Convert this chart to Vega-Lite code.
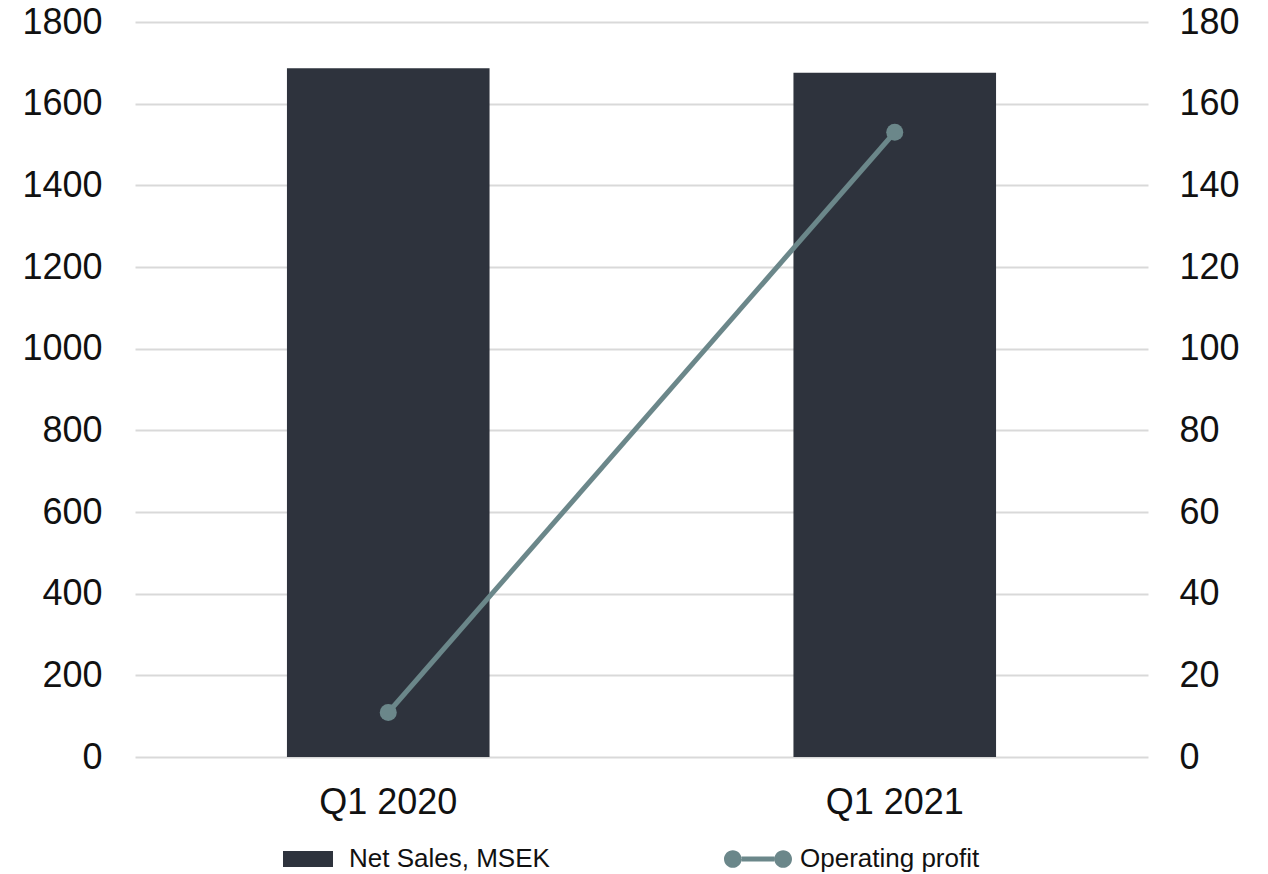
{
  "$schema": "https://vega.github.io/schema/vega-lite/v6.json",
  "width": 1013,
  "height": 735,
  "autosize": {"type": "none"},
  "padding": {"left": 135, "top": 22, "right": 120, "bottom": 117},
  "background": "white",
  "config": {
    "view": {"stroke": null},
    "font": "Liberation Sans",
    "axis": {"labelFont": "Liberation Sans", "labelFontSize": 36, "labelColor": "#111111", "domain": false, "ticks": false, "tickSize": 0, "title": null},
    "legend": {"labelFont": "Liberation Sans", "labelFontSize": 26, "labelColor": "#111111", "title": null, "padding": 0, "labelLimit": 0}
  },
  "data": {"values": [
    {"quarter": "Q1 2020", "sales": 1687, "profit": 10.9, "s": "Net Sales, MSEK", "p": "Operating profit"},
    {"quarter": "Q1 2021", "sales": 1676, "profit": 153, "s": "Net Sales, MSEK", "p": "Operating profit"}
  ]},
  "encoding": {
    "x": {"field": "quarter", "type": "nominal", "scale": {"paddingInner": 0.6, "paddingOuter": 0.3},
      "axis": {"labelAngle": 0, "labelPadding": 28, "grid": false}}
  },
  "layer": [
    {
      "mark": {"type": "bar", "color": "#2E333D"},
      "encoding": {
        "y": {"field": "sales", "type": "quantitative", "scale": {"domain": [0, 1800]},
          "axis": {"orient": "left", "format": "d", "values": [0,200,400,600,800,1000,1200,1400,1600,1800], "grid": true, "gridColor": "#D9D9D9", "gridWidth": 2, "labelPadding": 33}},
        "fill": {"field": "s", "type": "nominal", "scale": {"range": ["#2E333D"]},
          "legend": {"orient": "none", "legendX": 148, "legendY": 812, "symbolType": "M-1,-0.32H1V0.32H-1Z", "symbolSize": 2500, "symbolStrokeWidth": 0, "labelOffset": 16}}
      }
    },
    {
      "encoding": {
        "y": {"field": "profit", "type": "quantitative", "scale": {"domain": [0, 180]},
          "axis": {"orient": "right", "format": "d", "values": [0,20,40,60,80,100,120,140,160,180], "grid": false, "labelPadding": 31}}
      },
      "layer": [
        {
          "mark": {"type": "line", "strokeWidth": 5},
          "encoding": {
            "stroke": {"field": "p", "type": "nominal", "scale": {"range": ["#6B878A"]},
              "legend": {"orient": "none", "legendX": 589, "legendY": 803, "symbolType": "M-0.48,-0.075H0.48V0.075H-0.48Z M-1,0A0.26,0.26 0 1,1 -0.48,0A0.26,0.26 0 1,1 -1,0Z M0.48,0A0.26,0.26 0 1,1 1,0A0.26,0.26 0 1,1 0.48,0Z", "symbolSize": 4624, "symbolStrokeWidth": 0, "symbolFillColor": "#6B878A", "labelOffset": 8,
                "encode": {"symbols": {"update": {"fill": {"value": "#6B878A"}, "strokeWidth": {"value": 0}}}}}}
          }
        },
        {
          "mark": {"type": "point", "filled": true, "size": 290, "color": "#6B878A", "opacity": 1}
        }
      ]
    }
  ],
  "resolve": {"scale": {"y": "independent"}}
}
